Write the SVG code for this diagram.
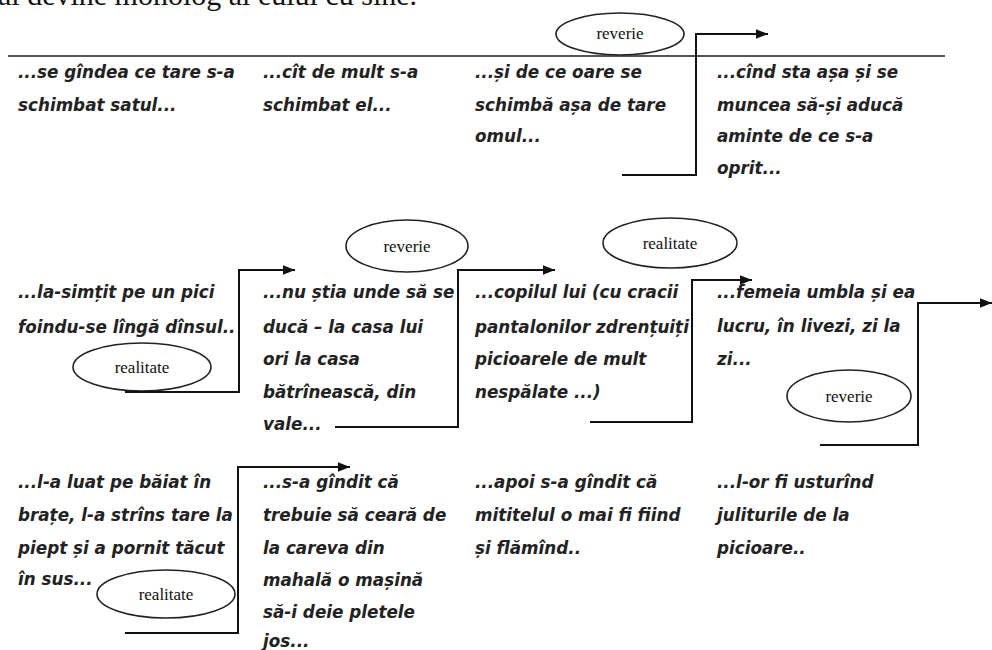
<svg xmlns="http://www.w3.org/2000/svg" width="992" height="650" viewBox="0 0 992 650">
<defs>
<style>
.t{font-family:"DejaVu Sans",sans-serif;font-style:oblique;font-weight:bold;font-size:16.8px;fill:#222}
.h{font-family:"Liberation Serif",serif;font-size:30px;fill:#111}
.lbl{font-family:"Liberation Serif",serif;font-size:17px;fill:#111;text-anchor:middle}
.el{fill:none;stroke:#222;stroke-width:1.6}
.c{fill:none;stroke:#111;stroke-width:2}
</style>
<marker id="ar" viewBox="0 0 10 10" refX="10" refY="5" markerWidth="6" markerHeight="6" markerUnits="strokeWidth" orient="auto">
<path d="M0,1 L10,5 L0,9 z" fill="#111"/>
</marker>
</defs>
<rect width="992" height="650" fill="#fff"/>
<text class="h" x="-2" y="5">al devine monolog al eului cu sine.</text>
<line x1="8" y1="56" x2="945" y2="56" stroke="#555" stroke-width="2.2"/>

<g id="t1"><text class="t" x="18" y="78">...se gîndea ce tare s-a</text><text class="t" x="18" y="111">schimbat satul...</text></g>
<g id="t2"><text class="t" x="263" y="78">...cît de mult s-a</text><text class="t" x="263" y="111">schimbat el...</text></g>
<g id="t3"><text class="t" x="475" y="78">...și de ce oare se</text><text class="t" x="475" y="111">schimbă așa de tare</text><text class="t" x="475" y="142">omul...</text></g>
<g id="t4"><text class="t" x="717" y="78">...cînd sta așa și se</text><text class="t" x="717" y="111">muncea să-și aducă</text><text class="t" x="717" y="142">aminte de ce s-a</text><text class="t" x="717" y="174">oprit...</text></g>

<g id="t5"><text class="t" x="18" y="298">...la-simțit pe un pici</text><text class="t" x="18" y="333">foindu-se lîngă dînsul..</text></g>
<g id="t6"><text class="t" x="263" y="298">...nu știa unde să se</text><text class="t" x="263" y="333">ducă – la casa lui</text><text class="t" x="263" y="365">ori la casa</text><text class="t" x="263" y="398">bătrînească, din</text><text class="t" x="263" y="430">vale...</text></g>
<g id="t7"><text class="t" x="475" y="298">...copilul lui (cu cracii</text><text class="t" x="475" y="333">pantalonilor zdrențuiți</text><text class="t" x="475" y="365">picioarele de mult</text><text class="t" x="475" y="398">nespălate ...)</text></g>
<g id="t8"><text class="t" x="717" y="298">...femeia umbla și ea</text><text class="t" x="717" y="332">lucru, în livezi, zi la</text><text class="t" x="717" y="365">zi...</text></g>

<g id="t9"><text class="t" x="18" y="488">...l-a luat pe băiat în</text><text class="t" x="18" y="521">brațe, l-a strîns tare la</text><text class="t" x="18" y="554">piept și a pornit tăcut</text><text class="t" x="18" y="585">în sus...</text></g>
<g id="t10"><text class="t" x="263" y="488">...s-a gîndit că</text><text class="t" x="263" y="521">trebuie să ceară de</text><text class="t" x="263" y="554">la careva din</text><text class="t" x="263" y="586">mahală o mașină</text><text class="t" x="263" y="618">să-i deie pletele</text><text class="t" x="263" y="647">jos...</text></g>
<g id="t11"><text class="t" x="475" y="488">...apoi s-a gîndit că</text><text class="t" x="475" y="521">mititelul o mai fi fiind</text><text class="t" x="475" y="554">și flămînd..</text></g>
<g id="t12"><text class="t" x="717" y="488">...l-or fi usturînd</text><text class="t" x="717" y="521">juliturile de la</text><text class="t" x="717" y="554">picioare..</text></g>

<g id="e1"><ellipse class="el" cx="620" cy="34" rx="64" ry="21"/><text class="lbl" x="620" y="39">reverie</text></g>
<g id="e2"><ellipse class="el" cx="142" cy="367" rx="69" ry="24"/><text class="lbl" x="142" y="373">realitate</text></g>
<g id="e3"><ellipse class="el" cx="407" cy="246" rx="61" ry="26"/><text class="lbl" x="407" y="252">reverie</text></g>
<g id="e4"><ellipse class="el" cx="670" cy="243" rx="67" ry="25"/><text class="lbl" x="670" y="249">realitate</text></g>
<g id="e5"><ellipse class="el" cx="849" cy="396" rx="62" ry="26"/><text class="lbl" x="849" y="402">reverie</text></g>
<g id="e6"><ellipse class="el" cx="166" cy="594" rx="69" ry="24"/><text class="lbl" x="166" y="600">realitate</text></g>

<g id="connectors">
<path class="c" d="M622,175 H696 V34 H768" marker-end="url(#ar)"/>
<path class="c" d="M125,392 H239 V270 H295" marker-end="url(#ar)"/>
<path class="c" d="M335,427 H458 V270 H555" marker-end="url(#ar)"/>
<path class="c" d="M590,422 H692 V280 H752" marker-end="url(#ar)"/>
<path class="c" d="M820,445 H918 V303 H992" marker-end="url(#ar)"/>
<path class="c" d="M125,633 H238 V467 H350" marker-end="url(#ar)"/>
</g>
</svg>
